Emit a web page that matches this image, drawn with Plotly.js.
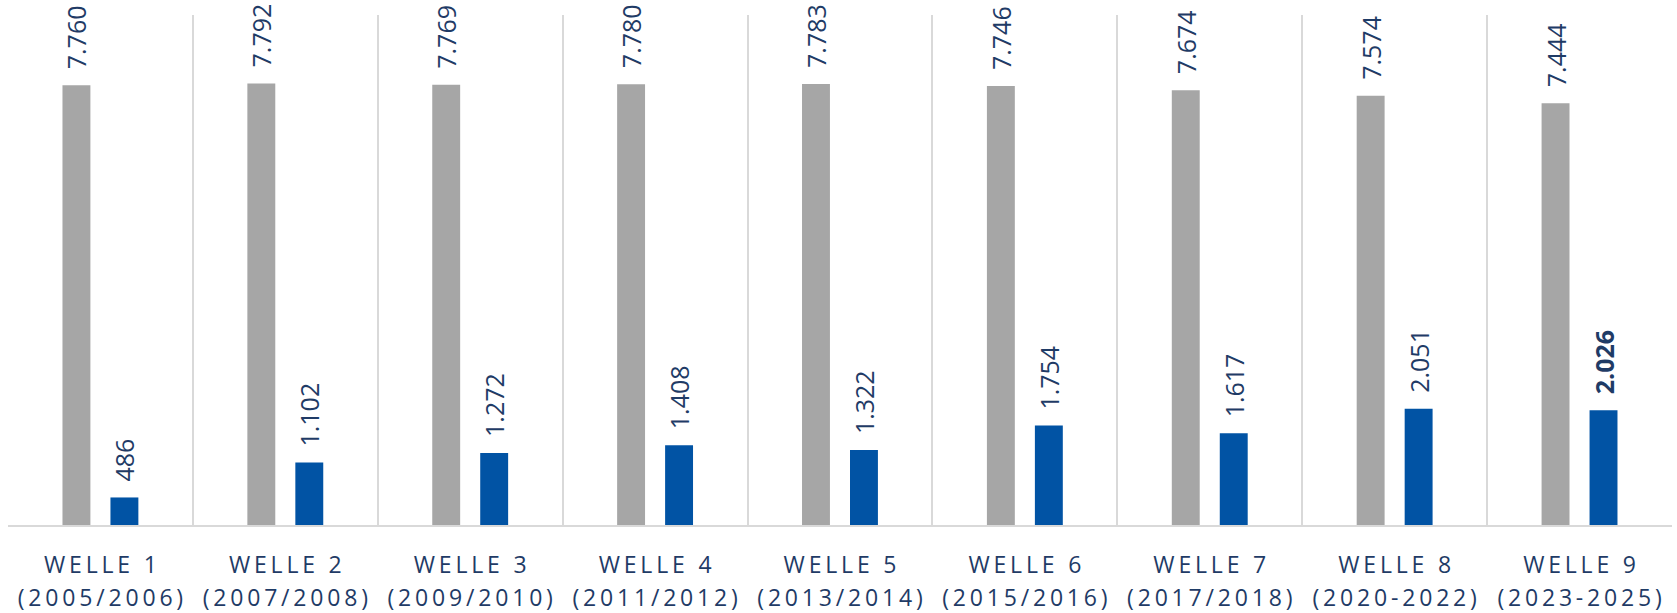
<!DOCTYPE html>
<html>
<head>
<meta charset="utf-8">
<script src="https://cdn.plot.ly/plotly-3.0.1.min.js"></script>
<style>html,body{margin:0;padding:0;background:#fff;}#chart{width:1677px;height:613px;}</style>
</head>
<body>
<div id="chart"></div>
<script>
const waves = ["WELLE 1","WELLE 2","WELLE 3","WELLE 4","WELLE 5","WELLE 6","WELLE 7","WELLE 8","WELLE 9"];
const periods = ["(2005/2006)","(2007/2008)","(2009/2010)","(2011/2012)","(2013/2014)","(2015/2016)","(2017/2018)","(2020-2022)","(2023-2025)"];
const grayValues = [7760, 7792, 7769, 7780, 7783, 7746, 7674, 7574, 7444];
const blueValues = [486, 1102, 1272, 1408, 1322, 1754, 1617, 2051, 2026];

const navy = "#1f3b66";
const spaced = s => s.split("").join("\u2009");
const cats = waves.map((w, i) => w + " " + periods[i]);
const fmt = v => v.toLocaleString("de-DE");
const pad = "\u00a0\u00a0";
const grayText = grayValues.map(v => pad + fmt(v));
const blueText = blueValues.map((v, i) => pad + (i === blueValues.length - 1 ? "<b>" + fmt(v) + "</b>" : fmt(v)));

const common = {
  type: "bar",
  x: cats,
  width: 0.151,
  textposition: "outside",
  textangle: -90,
  constraintext: "none",
  cliponaxis: false,
  textfont: {family: "Open Sans, sans-serif", size: 25, color: navy},
  hoverinfo: "none"
};
const data = [
  Object.assign({}, common, {y: grayValues, text: grayText, offset: -0.2054, marker: {color: "#a6a6a6"}}),
  Object.assign({}, common, {y: blueValues, text: blueText, offset: 0.0541, marker: {color: "#0153a4"}})
];
const tickFont = {family: "Open Sans, sans-serif", size: 23, color: navy};
const layout = {
  width: 1677, height: 613,
  margin: {l: 8, r: 5, t: 15, b: 88},
  paper_bgcolor: "#fff", plot_bgcolor: "#fff",
  showlegend: false,
  barmode: "group",
  xaxis: {
    type: "category",
    tickson: "boundaries",
    tickvals: cats,
    ticktext: waves.map(spaced),
    ticks: "",
    ticklabelstandoff: 18,
    showgrid: true, gridcolor: "#d9d9d9", gridwidth: 2,
    showline: true, linecolor: "#d9d9d9", linewidth: 2,
    tickfont: tickFont,
    range: [-0.5, 8.5],
    fixedrange: true
  },
  xaxis2: {
    overlaying: "x",
    anchor: "y",
    side: "bottom",
    range: [-0.5, 8.5],
    tickmode: "array",
    tickvals: periods.map((_, i) => i),
    ticktext: periods.map(spaced),
    ticks: "",
    ticklabelstandoff: 57,
    showgrid: false, showline: false, zeroline: false,
    tickfont: tickFont,
    fixedrange: true
  },
  yaxis: {
    range: [0, 9000],
    visible: false,
    showgrid: false,
    zeroline: false,
    fixedrange: true
  }
};
// invisible anchor trace so the second axis is drawn
data.push({type: "scatter", x: [], y: [], xaxis: "x2", yaxis: "y", hoverinfo: "none", showlegend: false});
Plotly.newPlot("chart", data, layout, {staticPlot: true, displayModeBar: false});
</script>
</body>
</html>
